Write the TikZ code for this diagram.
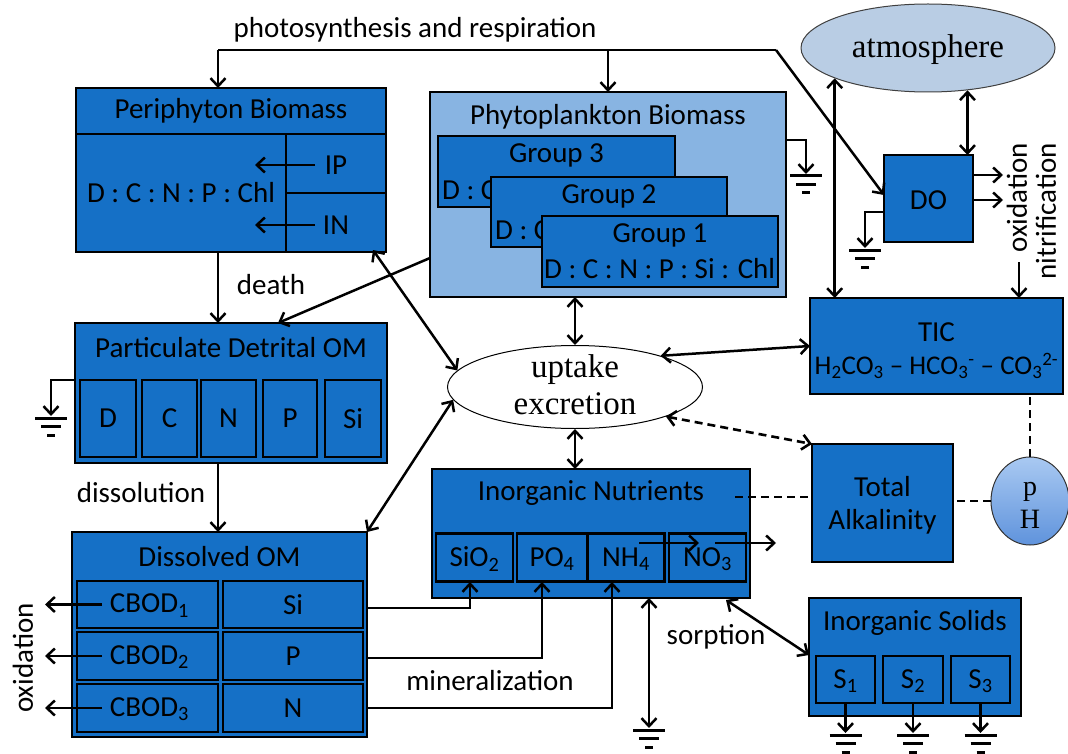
\documentclass[tikz,border=0pt]{standalone}
\usepackage{fontspec}
\setmainfont{Carlito}
\newfontfamily\serf{Liberation Serif}
\usetikzlibrary{arrows.meta,calc,shapes.geometric}
\definecolor{boxblue}{HTML}{1570C6}
\definecolor{phyblue}{HTML}{88B4E2}
\definecolor{atmblue}{HTML}{B9CDE4}
\definecolor{phtop}{HTML}{A9C9F2}
\definecolor{phbot}{HTML}{5F93DC}
\newcommand{\lblfont}{\fontsize{29}{31}\selectfont}
\newcommand{\gndsym}[1]{%
  \draw[gl] ($(#1)+(-16,0)$) -- ($(#1)+(16,0)$);
  \draw[gl] ($(#1)+(-10,8.5)$) -- ($(#1)+(10,8.5)$);
  \draw[gl] ($(#1)+(-4,17)$) -- ($(#1)+(4,17)$);}
\begin{document}
\begin{tikzpicture}[x=1pt,y=-1pt,
  box/.style={draw=black, line width=2.5pt, fill=boxblue, rectangle, inner sep=0pt, outer sep=0pt},
  sub/.style={box, line width=2.2pt},
  txt/.style={font=\lblfont, inner sep=0pt},
  stxt/.style={font=\serf\fontsize{33}{35}\selectfont, inner sep=0pt},
  arr/.style={line width=2.5pt, -{Straight Barb[length=8pt,width=15pt]}},
  darr/.style={line width=2.5pt, {Straight Barb[length=8pt,width=15pt]}-{Straight Barb[length=8pt,width=15pt]}},
  dsh/.style={line width=2.6pt, dash pattern=on 8pt off 5pt},
  gl/.style={line width=3pt}]
\useasboundingbox (0,0) rectangle (1068,754);
\fill[white] (0,0) rectangle (1068,754);

% ---------- Periphyton ----------
\node[box, minimum width=310pt, minimum height=164pt] (peri) at (231,170) {};
\draw[line width=2.6pt] (peri.west |- 0,134) -- (peri.east |- 0,134);
\draw[line width=2.4pt] (286,134) -- (286,252);
\draw[line width=2.4pt] (286,193) -- (peri.east |- 0,193);
\node[txt] (periT) at (231,111) {Periphyton Biomass};
\node[txt] (periR) at (181,193) {D : C : N : P : Chl};
\node[txt] (ip) at (336,165) {IP};
\node[txt] (in) at (336,225) {IN};
\coordinate (ipA) at (315,165); \coordinate (ipB) at (255,165);
\coordinate (inA) at (315,225); \coordinate (inB) at (255,225);
\draw[arr] (ipA) -- (ipB);
\draw[arr] (inA) -- (inB);

% ---------- Phytoplankton ----------
\node[box, fill=phyblue, minimum width=356pt, minimum height=205pt] (phyto) at (608,194.5) {};
\node[txt] (phyT) at (608,117) {Phytoplankton Biomass};
\node[box, minimum width=237pt, minimum height=71pt] (g3) at (556.5,171.5) {};
\node[txt] (g3T) at (556.5,155) {Group 3};
\node[txt, anchor=west] (g3R) at (442,190) {D : C};
\node[box, minimum width=236pt, minimum height=70pt] (g2) at (609,212) {};
\node[txt] (g2T) at (609,196) {Group 2};
\node[txt, anchor=west] (g2R) at (495,230) {D : C};
\node[box, minimum width=236pt, minimum height=71pt] (g1) at (660,251.5) {};
\node[txt] (g1T) at (660,235) {Group 1};
\node[txt, anchor=west] (g1R) at (544,269) {D : C : N : P : Si : Chl};
\coordinate (phG) at (806,176);
\draw[arr] (phyto.east |- 0,140) -| ($(phG)+(0,-2)$);
\gndsym{phG}

% ---------- atmosphere / DO ----------
\node[ellipse, draw=black!75, line width=1pt, fill=atmblue, minimum width=254pt, minimum height=88pt, inner sep=0pt] (atm) at (928,48) {};
\node[stxt] (atmT) at (928,50) {atmosphere};
\node[box, minimum width=89pt, minimum height=87pt] (do) at (928.5,198.5) {};
\node[txt] (doT) at (928.5,200) {DO};
\coordinate (doG) at (865,250);
\draw[arr] (do.west |- 0,212) -| ($(doG)+(0,-2)$);
\gndsym{doG}
\draw[arr] (do.east |- 0,175) -- ++(30,0);
\draw[arr] (do.east |- 0,200) -- ++(30,0);
\node[txt, rotate=90, anchor=east] (oxR) at (1017,143) {oxidation};
\node[txt, rotate=90, anchor=east] (nitR) at (1046,143) {nitrification};
\draw[darr] (atm.-47) -- (atm.-47 |- do.north);

% top photosynthesis line
\node[txt] (photo) at (415,30) {photosynthesis and respiration};
\coordinate (tA) at (218,50);
\coordinate (tB) at (776,50);
\draw[line width=2.5pt] (tA) -- (tB);
\draw[arr] (tA) -- (tA |- peri.north);
\draw[arr] (phyto.north |- tB) -- (phyto.north);
\draw[arr] (tB) -- (do.west |- 0,195);

% ---------- TIC ----------
\node[box, minimum width=253pt, minimum height=96pt] (tic) at (936.5,346) {};
\node[txt] (ticT) at (936.5,332) {TIC};
\node[txt, font=\fontsize{27}{29}\selectfont] (ticF) at (936.5,366) {H\textsubscript{2}CO\textsubscript{3} -- HCO\textsubscript{3}\textsuperscript{-} -- CO\textsubscript{3}\textsuperscript{2-}};
\draw[darr] (atm.-162) -- (atm.-162 |- tic.north);
\coordinate (nitA) at (1019,262);
\draw[arr] (nitA) -- (nitA |- tic.north);

% ---------- uptake ----------
\node[ellipse, draw=black, line width=1pt, fill=white, minimum width=255pt, minimum height=83pt, inner sep=0pt] (upt) at (575,387) {};
\node[stxt] (uptT) at (575,370) {uptake};
\node[stxt] (excT) at (575,404) {excretion};
\draw[darr] (upt.north) -- (upt.north |- phyto.south);
\draw[darr] (upt.20) -- (tic.west);

% ---------- Total Alkalinity / pH ----------
\node[box, minimum width=141pt, minimum height=118pt] (ta) at (882.5,503) {};
\node[txt] (taT1) at (882.5,487) {Total};
\node[txt] (taT2) at (882.5,522) {Alkalinity};
\node[ellipse, draw=black!80, line width=1pt, top color=phtop, bottom color=phbot, minimum width=78pt, minimum height=88pt, inner sep=0pt] (ph) at (1030,501) {};
\node[font=\serf\fontsize{28}{30}\selectfont, inner sep=0pt, anchor=base] (phP) at (1030,495) {p};
\node[font=\serf\fontsize{28}{30}\selectfont, inner sep=0pt, anchor=base] (phH) at (1030,528) {H};
\draw[dsh, {Straight Barb[length=8pt,width=15pt]}-{Straight Barb[length=8pt,width=15pt]}] (upt.-18) -- (ta.north west);
\draw[dsh] (ph.north) -- (ph.north |- tic.south);
\draw[dsh] (ph.west) -- (ph.west -| ta.east);

% ---------- Inorganic Nutrients ----------
\node[box, minimum width=318pt, minimum height=129pt] (inn) at (591,533.5) {};
\node[txt] (innT) at (591,493) {Inorganic Nutrients};
\node[sub, minimum width=77pt, minimum height=48pt] (sio) at (474.5,557.5) {};
\node[sub, minimum width=70pt, minimum height=48pt] (po) at (552,557.5) {};
\node[sub, minimum width=77pt, minimum height=48pt] (nh) at (626,557.5) {};
\node[sub, minimum width=77pt, minimum height=48pt] (no) at (707.5,557.5) {};
\node[txt] (sioT) at (474.5,559) {SiO\textsubscript{2}};
\node[txt] (poT) at (552,559) {PO\textsubscript{4}};
\node[txt] (nhT) at (626,559) {NH\textsubscript{4}};
\node[txt] (noT) at (707.5,559) {NO\textsubscript{3}};
\coordinate (nA) at (639,543); \coordinate (nB) at (699,543);
\coordinate (nC) at (715,543); \coordinate (nD) at (776,543);
\draw[arr] (nA) -- (nB);
\draw[arr] (nC) -- (nD);
\draw[darr] (upt.south) -- (upt.south |- inn.north);
\coordinate (innD) at (735,497);
\draw[dsh] (innD) -- (innD -| ta.west);
\coordinate (innG) at (649,730);
\draw[darr] (innG |- inn.south) -- ($(innG)+(0,-2)$);
\gndsym{innG}

% ---------- Inorganic Solids ----------
\node[box, minimum width=212pt, minimum height=118pt] (is) at (915,657) {};
\node[txt] (isT) at (915,623) {Inorganic Solids};
\node[sub, minimum width=59pt, minimum height=47pt] (s1) at (845.5,679.5) {};
\node[sub, minimum width=60pt, minimum height=47pt] (s2) at (913,679.5) {};
\node[sub, minimum width=59pt, minimum height=47pt] (s3) at (980.5,679.5) {};
\node[txt] (s1T) at (845.5,681) {S\textsubscript{1}};
\node[txt] (s2T) at (913,681) {S\textsubscript{2}};
\node[txt] (s3T) at (980.5,681) {S\textsubscript{3}};
\coordinate (sG1) at (845.5,735); \coordinate (sG2) at (913,735); \coordinate (sG3) at (980.5,735);
\draw[arr] (s1.south) -- ($(sG1)+(0,-2)$);
\draw[arr] (s2.south) -- ($(sG2)+(0,-2)$);
\draw[arr] (s3.south) -- ($(sG3)+(0,-2)$);
\gndsym{sG1}\gndsym{sG2}\gndsym{sG3}
\coordinate (sorA) at (726,600);
\draw[darr] (sorA) -- (is.west |- 0,655);
\node[txt] (sorT) at (716,637) {sorption};

% ---------- Particulate Detrital OM ----------
\node[box, minimum width=312pt, minimum height=140pt] (pdom) at (231,393) {};
\node[txt] (pdomT) at (231,348) {Particulate Detrital OM};
\node[sub, minimum width=56pt, minimum height=77pt] (pD) at (108,418.5) {};
\node[sub, minimum width=55pt, minimum height=77pt] (pC) at (169.5,418.5) {};
\node[sub, minimum width=55pt, minimum height=77pt] (pN) at (228.5,418.5) {};
\node[sub, minimum width=54pt, minimum height=77pt] (pP) at (290,418.5) {};
\node[sub, minimum width=56pt, minimum height=77pt] (pSi) at (353,418.5) {};
\node[txt] at (pD) {D};
\node[txt] at (pC) {C};
\node[txt] at (pN) {N};
\node[txt] at (pP) {P};
\node[txt] at (pSi) {Si};
\coordinate (pG) at (51,418);
\draw[arr] (pdom.west |- 0,380) -| ($(pG)+(0,-2)$);
\gndsym{pG}
\draw[arr] (tA |- peri.south) -- (tA |- pdom.north);
\node[txt] (death) at (271,285) {death};
\draw[arr] (phyto.west |- 0,258) -- ($(pdom.north)+(47,0)$);

% ---------- Dissolved OM ----------
\node[box, minimum width=295pt, minimum height=205pt] (dom) at (219.5,634.5) {};
\node[txt] (domT) at (219.5,557) {Dissolved OM};
\node[sub, minimum width=141pt, minimum height=47pt] (cb1) at (147.5,604.5) {};
\node[sub, minimum width=141pt, minimum height=48pt] (cb2) at (147.5,656) {};
\node[sub, minimum width=141pt, minimum height=48pt] (cb3) at (147.5,708) {};
\node[sub, minimum width=140pt, minimum height=47pt] (dSi) at (293,604.5) {};
\node[sub, minimum width=140pt, minimum height=48pt] (dP) at (293,656) {};
\node[sub, minimum width=140pt, minimum height=48pt] (dN) at (293,708) {};
\node[txt] at ($(cb1)+(2,1)$) {CBOD\textsubscript{1}};
\node[txt] at ($(cb2)+(2,1)$) {CBOD\textsubscript{2}};
\node[txt] at ($(cb3)+(2,1)$) {CBOD\textsubscript{3}};
\node[txt] at (dSi) {Si};
\node[txt] at (dP) {P};
\node[txt] at (dN) {N};
\draw[arr] ($(cb1.west)+(25,0)$) -- ($(cb1.west)+(-32,0)$);
\draw[arr] ($(cb2.west)+(25,0)$) -- ($(cb2.west)+(-32,0)$);
\draw[arr] ($(cb3.west)+(25,0)$) -- ($(cb3.west)+(-32,0)$);
\node[txt, rotate=90] (oxL) at (23,658) {oxidation};
\draw[arr] (tA |- pdom.south) -- (tA |- dom.north);
\node[txt] (diss) at (141,493) {dissolution};

% mineralization
\coordinate (mSi) at (470,582); \coordinate (mP) at (542,582); \coordinate (mN) at (612,582);
\draw[arr] (dom.east |- 0,608) -| (mSi);
\draw[arr] (dom.east |- 0,658) -| (mP);
\draw[arr] (dom.east |- 0,708) -| (mN);
\node[txt] (minT) at (490,681) {mineralization};

% exchanges with uptake
\draw[darr] ($(peri.south east)+(-13,-2)$) -- (upt.172);
\draw[darr] (dom.north east) -- (upt.186);
\end{tikzpicture}
\end{document}
